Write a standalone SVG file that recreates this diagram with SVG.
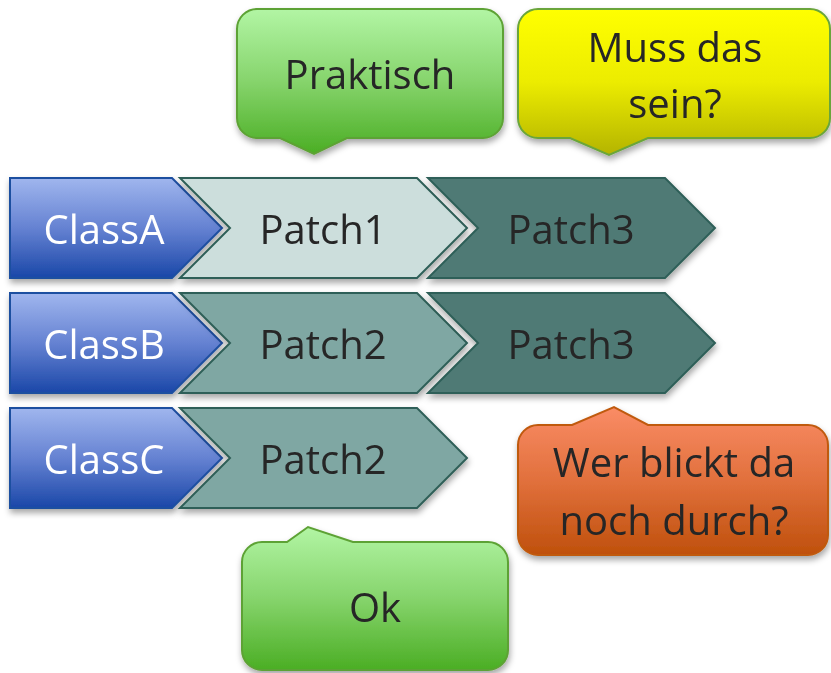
<svg xmlns="http://www.w3.org/2000/svg" width="831" height="673" viewBox="0 0 831 673">
<style>
text{font-family:"Open Sans","Noto Sans","Liberation Sans",sans-serif;font-size:40px;text-anchor:middle;fill:#262626}
.cls{fill:url(#gBlue);stroke:#1F4FA0;stroke-width:2}
.cls+text{fill:#fff}
.p1{fill:#CCDEDC;stroke:#2F5F58;stroke-width:2}
.p2{fill:#7FA7A3;stroke:#2F5F58;stroke-width:2}
.p3{fill:#4F7A75;stroke:#2F5F58;stroke-width:2}
.sh{filter:url(#shadow)}
.white{fill:#fff}
</style>
<defs>
<filter id="shadow" x="-10%" y="-10%" width="130%" height="140%">
<feDropShadow dx="1" dy="4" stdDeviation="3" flood-color="#000" flood-opacity="0.35"/>
</filter>
<linearGradient id="gBlue" x1="0" y1="0" x2="0" y2="1">
<stop offset="0" stop-color="#A0B6EE"/><stop offset="0.5" stop-color="#6582D2"/><stop offset="1" stop-color="#1A47A8"/>
</linearGradient>
<linearGradient id="gGreen" x1="0" y1="0" x2="0" y2="1">
<stop offset="0" stop-color="#B2F5A4"/><stop offset="0.5" stop-color="#86D46C"/><stop offset="1" stop-color="#4BAE24"/>
</linearGradient>
<linearGradient id="gYellow" x1="0" y1="0" x2="0" y2="1">
<stop offset="0" stop-color="#FFFF00"/><stop offset="0.5" stop-color="#ECEC00"/><stop offset="1" stop-color="#B4B400"/>
</linearGradient>
<linearGradient id="gOrange" x1="0" y1="0" x2="0" y2="1">
<stop offset="0" stop-color="#FA8C66"/><stop offset="0.5" stop-color="#E1703C"/><stop offset="1" stop-color="#BF500C"/>
</linearGradient>
</defs>

<g id="connectors"></g>

<g id="rowA">
<g id="classA" class="sh"><path class="cls" d="M10,178 H172 L222,228 L172,278 H10 Z"/><text x="104" y="244" fill="#fff" style="fill:#fff">ClassA</text></g>
<g id="patch1A" class="sh"><path class="p1" d="M180,178 H417 L467,228 L417,278 H180 L230,228 Z"/><text x="323" y="244">Patch1</text></g>
<g id="patch3A" class="sh"><path class="p3" d="M428,178 H665 L715,228 L665,278 H428 L478,228 Z"/><text x="571" y="244">Patch3</text></g>
</g>

<g id="rowB" transform="translate(0,115)">
<g id="classB" class="sh"><path class="cls" d="M10,178 H172 L222,228 L172,278 H10 Z"/><text x="104" y="244" style="fill:#fff">ClassB</text></g>
<g id="patch2B" class="sh"><path class="p2" d="M180,178 H417 L467,228 L417,278 H180 L230,228 Z"/><text x="323" y="244">Patch2</text></g>
<g id="patch3B" class="sh"><path class="p3" d="M428,178 H665 L715,228 L665,278 H428 L478,228 Z"/><text x="571" y="244">Patch3</text></g>
</g>

<g id="rowC" transform="translate(0,230)">
<g id="classC" class="sh"><path class="cls" d="M10,178 H172 L222,228 L172,278 H10 Z"/><text x="104" y="244" style="fill:#fff">ClassC</text></g>
<g id="patch2C" class="sh"><path class="p2" d="M180,178 H417 L467,228 L417,278 H180 L230,228 Z"/><text x="323" y="244">Patch2</text></g>
</g>

<g id="praktisch" class="sh">
<path fill="url(#gGreen)" stroke="#5DA234" stroke-width="2" d="M257,9 H483 A20,20 0 0 1 503,29 V118 A20,20 0 0 1 483,138 H347 L314,154 L280,138 H257 A20,20 0 0 1 237,118 V29 A20,20 0 0 1 257,9 Z"/>
<text x="370" y="89">Praktisch</text>
</g>

<g id="mussdas" class="sh">
<path fill="url(#gYellow)" stroke="#6AA53A" stroke-width="2" d="M538,9 H810 A20,20 0 0 1 830,29 V118 A20,20 0 0 1 810,138 H648 L609,155 L570,138 H538 A20,20 0 0 1 518,118 V29 A20,20 0 0 1 538,9 Z"/>
<text x="675" y="62">Muss das</text>
<text x="675" y="118">sein?</text>
</g>

<g id="werblickt" class="sh">
<path fill="url(#gOrange)" stroke="#C05A10" stroke-width="2" d="M538,425 H572 L614,407 L648,425 H808 A20,20 0 0 1 828,445 V535 A20,20 0 0 1 808,555 H538 A20,20 0 0 1 518,535 V445 A20,20 0 0 1 538,425 Z"/>
<text x="674" y="477">Wer blickt da</text>
<text x="674" y="535">noch durch?</text>
</g>

<g id="ok" class="sh">
<path fill="url(#gGreen)" stroke="#5DA234" stroke-width="2" d="M262,542 H287 L308,527 L353,542 H488 A20,20 0 0 1 508,562 V650 A20,20 0 0 1 488,670 H262 A20,20 0 0 1 242,650 V562 A20,20 0 0 1 262,542 Z"/>
<text x="375" y="622">Ok</text>
</g>
</svg>
